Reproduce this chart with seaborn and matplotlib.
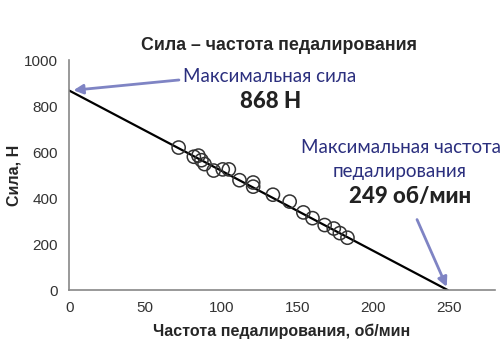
import numpy as np
import pandas as pd
import matplotlib
matplotlib.use('Agg')
import matplotlib.pyplot as plt
import seaborn as sns

# measured points (cadence, force)
cadence = [72, 82, 85, 87, 89, 95, 101, 105, 112, 121, 121, 134, 145, 154, 160, 168, 174, 178, 183]
force = [620, 580, 585, 565, 548, 520, 525, 525, 478, 468, 450, 415, 385, 338, 313, 283, 268, 248, 228]

# fitted line end points
max_force = 868
max_cadence = 249
line_x = [0, max_cadence]
line_y = [max_force, 0]

df = pd.DataFrame({'cadence': cadence, 'force': force})
line_df = pd.DataFrame({'x': line_x, 'y': line_y})

sns.set_style('white')
plt.rcParams['font.family'] = ['Liberation Sans', 'DejaVu Sans']

fig = plt.figure(figsize=(5.01, 3.56), dpi=100)
ax = fig.add_axes([0.138, 0.185, 0.850, 0.646])

sns.lineplot(data=line_df, x='x', y='y', color='black', linewidth=1.6, ax=ax)
sns.scatterplot(data=df, x='cadence', y='force', s=90, facecolors='none',
                edgecolor='#333333', linewidth=1.1, marker='o', ax=ax, zorder=3)

ax.set_xlim(0, 280)
ax.set_ylim(0, 1000)
ax.set_xticks([0, 50, 100, 150, 200, 250])
ax.set_yticks([0, 200, 400, 600, 800, 1000])
for s in ['top', 'right']:
    ax.spines[s].set_visible(False)
for s in ['left', 'bottom']:
    ax.spines[s].set_color('#888888')
    ax.spines[s].set_linewidth(1.2)
ax.tick_params(axis='both', direction='out', length=4, width=1, color='#888888',
               labelsize=11, labelcolor='#333333', pad=4)
ax.set_xlabel('Частота педалирования, об/мин', fontsize=11.5, fontweight='bold', labelpad=6)
ax.set_ylabel('Сила, Н', fontsize=11.5, fontweight='bold', labelpad=2)

fig.text(0.557, 0.872, 'Сила – частота педалирования', ha='center', va='center',
         fontsize=12.8, fontweight='bold')

blue = '#2b2f7e'
arrow_c = '#7f84c4'
ann_font = ['Lato', 'DejaVu Sans']

ax.annotate('', xy=(1, max_force), xytext=(74, 915),
            arrowprops=dict(arrowstyle='-|>', color=arrow_c, lw=2, mutation_scale=14))
fig.text(0.538, 0.786, 'Максимальная сила', ha='center', va='center',
         fontsize=13.5, color=blue, family=ann_font)
fig.text(0.540, 0.716, '868 Н', ha='center', va='center',
         fontsize=16, fontweight='black', color='#222222', family=ann_font)

ax.annotate('', xy=(max_cadence, 3), xytext=(228, 318),
            arrowprops=dict(arrowstyle='-|>', color=arrow_c, lw=2, mutation_scale=14))
fig.text(0.800, 0.587, 'Максимальная частота', ha='center', va='center',
         fontsize=13.5, color=blue, family=ann_font)
fig.text(0.797, 0.517, 'педалирования', ha='center', va='center',
         fontsize=13.5, color=blue, family=ann_font)
fig.text(0.818, 0.447, '249 об/мин', ha='center', va='center',
         fontsize=16, fontweight='black', color='#222222', family=ann_font)

fig.savefig('out.png', dpi=100)
